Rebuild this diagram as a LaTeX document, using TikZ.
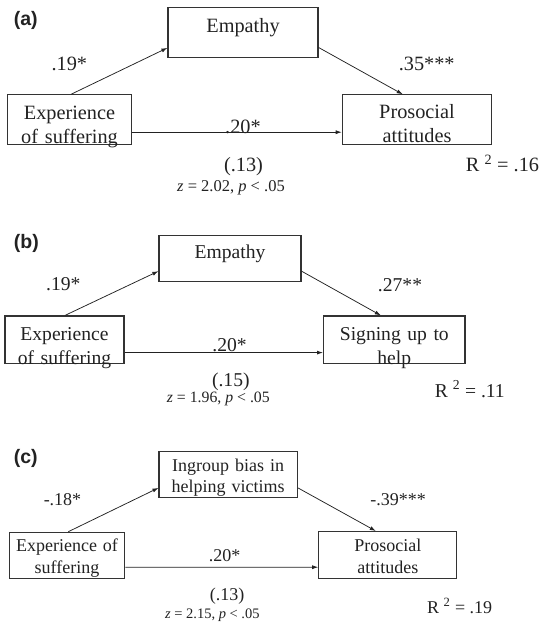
\documentclass[tikz,border=0pt]{standalone}
\usepackage{fontspec}
\setmainfont{Liberation Serif}
\newfontfamily\panelfont{Liberation Sans}
\usetikzlibrary{arrows.meta}
\newcommand\fntA{\fontsize{20.3}{24}\selectfont}
\newcommand\fntB{\fontsize{19.6}{24}\selectfont}
\newcommand\fntC{\fontsize{18}{21.5}\selectfont}
\definecolor{ink}{HTML}{222222}
\definecolor{edge}{HTML}{333333}
\begin{document}
\begin{tikzpicture}[x=1pt,y=-1pt,
  box/.style={draw=edge, line width=1.2pt, inner sep=0pt, anchor=north, align=center, text=ink},
  coef/.style={inner sep=0pt, anchor=base, text=ink},
  panel/.style={inner sep=0pt, anchor=west, font=\panelfont\bfseries\fontsize{19.5}{22}\selectfont, text=ink},
  arr/.style={draw=ink, line width=0.75pt, -{Latex[length=6pt,width=4pt]}}]
\useasboundingbox (0,0) rectangle (538,623);

% ---------- (a) ----------
\node[panel] (la) at (13.7,20.5) {(a)};
\node[box, font=\fntA, text width=150pt, text height=24.4pt, text depth=25.6pt] (ma) at (243,7.3) {Empathy};
\node[box, font=\fntA, text width=124.4pt, text height=24.7pt, text depth=25pt] (xa) at (69.5,94.3) {Experience\\of suffering};
\node[box, font=\fntA, text width=149.4pt, text height=23.5pt, text depth=26.2pt] (ya) at (417,94.3) {Prosocial\\attitudes};
\draw[arr] ([xshift=1.5pt]xa.north) -- ([yshift=10.6pt]ma.south west);
\draw[arr] ([yshift=11pt]ma.south east) -- ([xshift=-14.3pt]ya.north);
\draw[arr] ([yshift=13pt]xa.south east) -- ([yshift=13pt]ya.south west);
\node[coef, font=\fntA] (a1) at (69.3,70.2) {.19*};
\node[coef, font=\fntA] (a2) at (426.7,70.2) {.35***};
\node[coef, font=\fntA] (a3) at (243,133.5) {.20*};
\node[coef, font=\fntA] (a4) at (243.5,171) {(.13)};
\node[coef, font=\fontsize{16.5}{18}\selectfont] (a5) at (231,191) {\textit{z} = 2.02, \textit{p} {\textless} .05};
\node[coef, font=\fntA] (a6) at (502.5,171.7) {R \textsuperscript{2} = .16};

% ---------- (b) ----------
\node[panel] (lb) at (13.7,243) {(b)};
\node[box, font=\fntB, text width=142pt, text height=23.6pt, text depth=22.4pt] (mb) at (230,234.7) {Empathy};
\node[box, font=\fntB, text width=119pt, text height=24pt, text depth=23.3pt] (xb) at (64.5,315.4) {Experience\\of suffering};
\node[box, font=\fntB, text width=141.4pt, text height=24pt, text depth=23.3pt] (yb) at (394.3,315.4) {Signing up to\\help};
\draw[arr] ([xshift=0.5pt]xb.north) -- ([yshift=10.7pt]mb.south west);
\draw[arr] ([yshift=10.7pt]mb.south east) -- ([xshift=-13.5pt]yb.north);
\draw[arr] ([yshift=11.3pt]xb.south east) -- ([yshift=11.3pt]yb.south west);
\node[coef, font=\fntB] (b1) at (63.3,290.7) {.19*};
\node[coef, font=\fntB] (b2) at (400,291.7) {.27**};
\node[coef, font=\fntB] (b3) at (229.5,351) {.20*};
\node[coef, font=\fntB] (b4) at (230.8,386) {(.15)};
\node[coef, font=\fontsize{15.8}{18}\selectfont] (b5) at (218.3,402.7) {\textit{z} = 1.96, \textit{p} {\textless} .05};
\node[coef, font=\fntB] (b6) at (469.8,397) {R \textsuperscript{2} = .11};

% ---------- (c) ----------
\node[panel] (lc) at (13.7,458) {(c)};
\node[box, font=\fntC, text width=138.3pt, text height=19.7pt, text depth=26pt] (mc) at (228.2,451) {Ingroup bias in\\helping victims};
\node[box, font=\fntC, text width=115.5pt, text height=19.5pt, text depth=26.8pt] (xc) at (67,531.7) {Experience of\\suffering};
\node[box, font=\fntC, text width=138pt, text height=20pt, text depth=27pt] (yc) at (387.8,531) {Prosocial\\attitudes};
\draw[arr] ([xshift=1.3pt]xc.north) -- ([yshift=10pt]mc.south west);
\draw[arr] ([yshift=10pt]mc.south east) -- ([xshift=-12pt]yc.north);
\draw[arr] ([yshift=12pt]xc.south east) -- ([yshift=12pt]yc.south west);
\node[coef, font=\fntC] (c1) at (62.5,505) {-.18*};
\node[coef, font=\fntC] (c2) at (398,505) {-.39***};
\node[coef, font=\fntC] (c3) at (224.6,561.5) {.20*};
\node[coef, font=\fntC] (c4) at (227,600.2) {(.13)};
\node[coef, font=\fontsize{14.5}{16}\selectfont] (c5) at (212.3,618.4) {\textit{z} = 2.15, \textit{p} {\textless} .05};
\node[coef, font=\fntC] (c6) at (459.7,613) {R \textsuperscript{2} = .19};
\end{tikzpicture}
\end{document}
